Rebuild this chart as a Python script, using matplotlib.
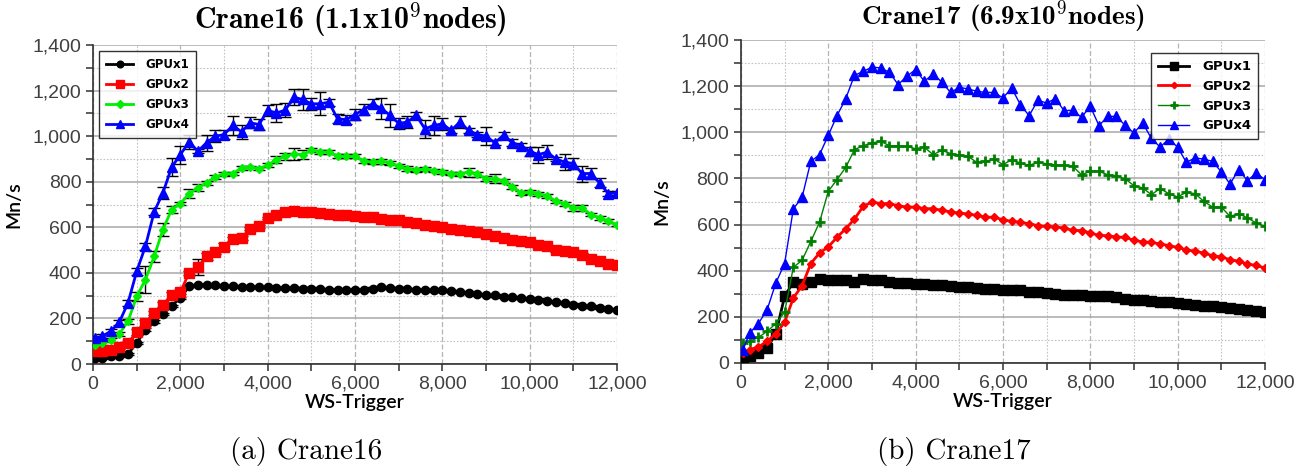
import numpy as np
import matplotlib
matplotlib.use('Agg')
import matplotlib.pyplot as plt
from matplotlib.ticker import FuncFormatter, MultipleLocator

# WS-Trigger sample points (same for both machines)
ws = np.r_[50, np.arange(200, 12001, 200)]

# Crane16 throughput (Mn/s)
c16_gpu1 = [25, 26, 34, 34, 44, 92, 151, 187, 220, 256, 290, 341, 348, 348, 345, 341,
            341, 338, 338, 337, 337, 334, 334, 334, 331, 331, 328, 326, 326, 326, 326,
            326, 331, 338, 334, 331, 329, 326, 326, 323, 323, 319, 316, 312, 307, 304,
            301, 294, 293, 290, 285, 283, 278, 271, 268, 261, 256, 253, 246, 242, 237]
c16_gpu2 = [55, 58, 63, 73, 92, 140, 180, 224, 261, 302, 316, 400, 426, 473, 490, 514,
            549, 553, 594, 605, 641, 656, 668, 671, 668, 666, 663, 660, 656, 652, 648,
            644, 644, 637, 630, 630, 622, 619, 612, 605, 600, 593, 590, 583, 580, 571,
            561, 553, 543, 539, 534, 521, 517, 499, 495, 490, 480, 461, 451, 439, 436]
c16_gpu3 = [82, 92, 104, 132, 187, 297, 370, 473, 590, 678, 704, 748, 773, 795, 820, 835,
            836, 861, 865, 858, 873, 897, 912, 922, 919, 938, 930, 931, 912, 912, 912,
            890, 887, 890, 883, 868, 857, 851, 857, 849, 843, 836, 835, 842, 832, 814,
            814, 802, 777, 751, 755, 747, 736, 714, 703, 685, 685, 656, 641, 627, 612]
c16_gpu4 = [114, 121, 143, 183, 268, 407, 517, 668, 751, 864, 919, 975, 934, 971, 1000, 1007,
            1047, 1019, 1059, 1051, 1113, 1102, 1114, 1171, 1161, 1142, 1142, 1149, 1076, 1073, 1095,
            1117, 1142, 1122, 1092, 1056, 1062, 1092, 1032, 1047, 1054, 1025, 1062, 1025, 1007, 1000,
            971, 1004, 971, 959, 934, 919, 930, 900, 886, 880, 836, 836, 795, 748, 751]

# Crane16 error bars (half width, Mn/s)
c16_err1 = [4, 4, 4, 4, 4, 5, 5, 5, 5, 5, 5, 5, 5, 5, 5, 5,
            5, 5, 5, 5, 5, 5, 5, 5, 5, 5, 5, 5, 5, 5, 5,
            5, 5, 5, 5, 5, 5, 5, 5, 5, 5, 5, 5, 5, 5, 5,
            5, 5, 5, 5, 5, 5, 5, 5, 5, 5, 5, 5, 5, 5, 5]
c16_err2 = [6, 6, 6, 6, 10, 12, 12, 8, 12, 15, 10, 10, 35, 15, 8, 15,
            8, 8, 6, 6, 6, 6, 6, 6, 6, 6, 6, 6, 6, 6, 6,
            6, 6, 6, 6, 6, 6, 6, 6, 6, 6, 6, 6, 6, 6, 6,
            6, 6, 6, 6, 6, 6, 6, 6, 6, 6, 6, 6, 6, 6, 6]
c16_err3 = [8, 8, 8, 8, 10, 20, 60, 25, 30, 15, 8, 20, 15, 8, 8, 8,
            8, 8, 6, 6, 8, 15, 15, 25, 20, 8, 8, 8, 8, 8, 8,
            8, 10, 10, 8, 8, 10, 10, 8, 8, 8, 8, 8, 20, 10, 10,
            20, 8, 8, 8, 8, 8, 8, 8, 8, 15, 15, 8, 8, 8, 8]
c16_err4 = [8, 10, 10, 12, 15, 15, 15, 15, 25, 40, 40, 30, 10, 35, 25, 20,
            40, 30, 25, 25, 25, 40, 30, 35, 45, 25, 50, 15, 20, 20, 25,
            25, 20, 45, 50, 25, 25, 15, 40, 40, 25, 10, 25, 10, 10, 40,
            10, 15, 15, 10, 20, 35, 30, 10, 35, 25, 35, 25, 20, 10, 10]

# Crane17 throughput (Mn/s)
c17_gpu1 = [25, 32, 43, 65, 127, 289, 351, 342, 351, 364, 358, 358, 358, 351, 364, 358,
            358, 351, 347, 347, 342, 342, 340, 340, 335, 329, 329, 325, 322, 322, 318,
            315, 315, 308, 306, 303, 301, 296, 296, 296, 292, 289, 289, 285, 279, 275,
            275, 270, 264, 263, 260, 256, 253, 249, 246, 241, 238, 234, 228, 224, 220]
c17_gpu2 = [45, 58, 69, 94, 127, 176, 282, 335, 431, 477, 503, 545, 582, 624, 679, 698,
            691, 691, 682, 676, 676, 669, 669, 662, 655, 650, 646, 640, 632, 632, 621,
            614, 610, 604, 595, 592, 590, 585, 575, 574, 564, 553, 552, 546, 545, 532,
            525, 523, 516, 509, 501, 491, 484, 477, 465, 460, 448, 441, 429, 423, 412]
c17_gpu3 = [87, 94, 111, 137, 171, 220, 415, 445, 527, 610, 744, 795, 848, 925, 942, 954,
            961, 942, 942, 939, 929, 936, 903, 922, 908, 900, 896, 870, 874, 884, 860,
            881, 867, 857, 870, 864, 857, 857, 853, 816, 831, 831, 816, 812, 798, 769,
            759, 730, 756, 734, 720, 740, 734, 701, 676, 676, 636, 647, 629, 607, 592]
c17_gpu4 = [58, 130, 171, 231, 347, 431, 668, 718, 874, 903, 987, 1072, 1146, 1247, 1264, 1283,
            1279, 1260, 1207, 1243, 1272, 1221, 1253, 1218, 1173, 1195, 1188, 1178, 1173, 1173, 1149,
            1192, 1120, 1072, 1139, 1127, 1146, 1094, 1095, 1065, 1113, 1029, 1069, 1069, 1030, 997,
            1040, 974, 936, 971, 936, 870, 889, 884, 874, 829, 776, 838, 790, 824, 795]

labels = ['GPUx1', 'GPUx2', 'GPUx3', 'GPUx4']

tick_col = '#404040'
fmt = FuncFormatter(lambda v, p: f'{v:,.0f}')


def style_axes(ax):
    ax.set_xlim(0, 12000)
    ax.set_ylim(0, 1400)
    ax.xaxis.set_major_locator(MultipleLocator(2000))
    ax.xaxis.set_minor_locator(MultipleLocator(1000))
    ax.yaxis.set_major_locator(MultipleLocator(200))
    ax.yaxis.set_minor_locator(MultipleLocator(100))
    ax.xaxis.set_major_formatter(fmt)
    ax.yaxis.set_major_formatter(fmt)
    ax.grid(True, which='major', axis='y', color='#a8a8a8', lw=1.1, ls='-')
    ax.grid(True, which='minor', axis='y', color='#c4c4c4', lw=0.8, ls=(0, (1.5, 1.5)))
    ax.grid(True, which='major', axis='x', color='#b4b4b4', lw=0.9, ls=(0, (4, 2)))
    ax.grid(True, which='minor', axis='x', color='#c4c4c4', lw=0.8, ls=(0, (1.5, 1.5)))
    ax.set_axisbelow(True)
    for s in ['top', 'right']:
        ax.spines[s].set_visible(False)
    for s in ['left', 'bottom']:
        ax.spines[s].set_color('#303030')
        ax.spines[s].set_linewidth(1.2)
    ax.tick_params(which='both', direction='out', colors='#303030', labelcolor=tick_col,
                   labelsize=14, width=1.1, length=5)
    for lab in ax.get_xticklabels() + ax.get_yticklabels():
        lab.set_family('Liberation Sans')
    ax.set_xlabel('WS-Trigger', family='Lato', weight='semibold', fontsize=14, labelpad=1)
    ax.set_ylabel('Mn/s', family='Lato', weight='semibold', fontsize=14, labelpad=7)


plt.rcParams['mathtext.fontset'] = 'cm'
fig = plt.figure(figsize=(13.07, 4.68), dpi=100)
ax1 = fig.add_axes([0.0712, 0.2222, 0.4009, 0.6816])
ax2 = fig.add_axes([0.5669, 0.2244, 0.4009, 0.6900])

# Crane16 with error bars
c16_series = [(c16_gpu1, c16_err1, 'black', 'o', 6),
              (c16_gpu2, c16_err2, '#ff0000', 's', 7),
              (c16_gpu3, c16_err3, '#00ee00', 'D', 4.5),
              (c16_gpu4, c16_err4, '#0000ff', '^', 7)]
c16_lines = []
for (vals, err, col, mk, ms), lab in zip(c16_series, labels):
    cont = ax1.errorbar(ws, vals, yerr=err, color=col, marker=mk, ms=ms, lw=2.0,
                        ecolor='black', elinewidth=1.0, capsize=4, capthick=1.0,
                        mec=col, label=lab, zorder=3)
    c16_lines.append(cont[0])
style_axes(ax1)
# legend shows only line + marker, as in the original
leg1 = ax1.legend(c16_lines, labels, loc='upper left', bbox_to_anchor=(0.0, 1.0),
                  frameon=True, fancybox=False, edgecolor='black',
                  prop={'family': 'DejaVu Sans', 'weight': 'bold', 'size': 8.5},
                  markerscale=0.8, handlelength=2.3, borderpad=0.6, labelspacing=0.6,
                  handletextpad=1.0)
leg1.get_frame().set_linewidth(1.0)

# Crane17 without error bars
c17_series = [(c17_gpu1, 'black', 's', 7, 2.0),
              (c17_gpu2, '#ff0000', 'D', 4, 2.0),
              (c17_gpu3, '#008000', '+', 7, 1.0),
              (c17_gpu4, '#0000ff', '^', 7, 1.0)]
for (vals, col, mk, ms, lw), lab in zip(c17_series, labels):
    ax2.plot(ws, vals, color=col, marker=mk, ms=ms, mew=2 if mk == '+' else 1, lw=lw,
             label=lab, zorder=3)
style_axes(ax2)
leg2 = ax2.legend(loc='upper right', bbox_to_anchor=(1.0, 0.98), frameon=True, fancybox=False,
                  edgecolor='black', prop={'family': 'DejaVu Sans', 'weight': 'bold', 'size': 9.5},
                  markerscale=0.8, handlelength=2.3, borderpad=0.55, labelspacing=0.5,
                  handletextpad=1.0)
leg2.get_frame().set_linewidth(1.0)

fig.text(0.268, 0.957, r'Crane16 (1.1x10$^{\mathbf{9}}$nodes)', family='cmb10',
         fontsize=21.5, ha='center', va='center')
fig.text(0.767, 0.965, r'Crane17 (6.9x10$^{\mathbf{9}}$nodes)', family='cmb10',
         fontsize=19.5, ha='center', va='center')
fig.text(0.234, 0.035, '(a) Crane16', family='cmr10', fontsize=21, ha='center', va='center')
fig.text(0.730, 0.035, '(b) Crane17', family='cmr10', fontsize=21, ha='center', va='center')

fig.savefig('out.png', dpi=100)
